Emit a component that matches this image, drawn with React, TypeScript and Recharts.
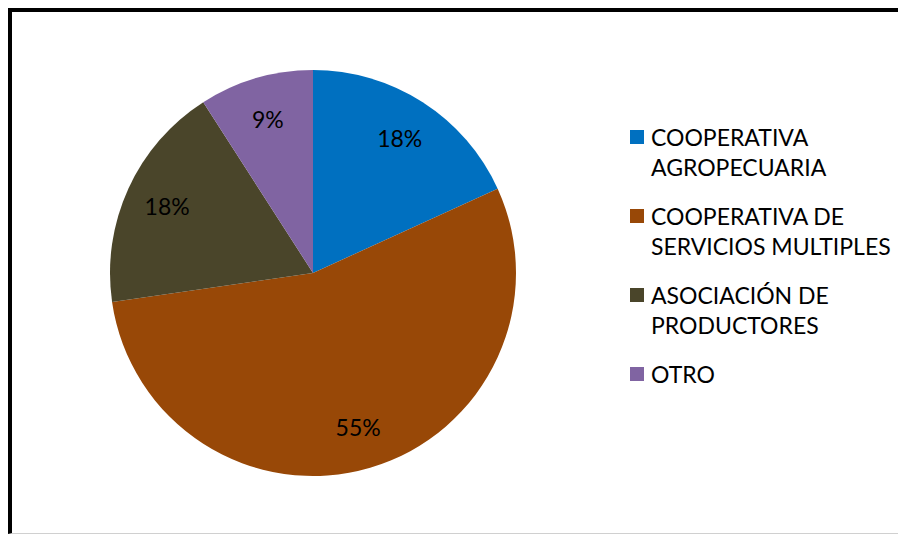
import React from 'react';
import { PieChart, Pie, Cell, Legend } from 'recharts';

const categories = [
  'COOPERATIVA AGROPECUARIA',
  'COOPERATIVA DE SERVICIOS MULTIPLES',
  'ASOCIACIÓN DE PRODUCTORES',
  'OTRO',
];
const counts = [2, 6, 2, 1];
const colors = ['#0070C0', '#984807', '#4A452A', '#8064A2'];

const data = categories.map((name, i) => ({ name, value: counts[i] }));
const total = counts.reduce((a, b) => a + b, 0);

const FONT = 'Lato, "Open Sans", sans-serif';
const RAD = Math.PI / 180;

const renderLabel = (props: any) => {
  const { cx, cy, midAngle, outerRadius, value } = props;
  const r = outerRadius * 0.79;
  const x = cx + r * Math.cos(-midAngle * RAD);
  const y = cy + r * Math.sin(-midAngle * RAD);
  return (
    <text x={x} y={y} fill="#000" textAnchor="middle" dominantBaseline="central" fontSize={23} fontFamily={FONT}>
      {Math.round((value / total) * 100)}%
    </text>
  );
};

const renderLegend = () => (
  <div style={{ fontFamily: FONT, fontSize: 23, color: '#000' }}>
    {data.map((d, i) => (
      <div key={d.name} style={{ display: 'flex', alignItems: 'flex-start', marginBottom: 19 }}>
        <div style={{ width: 14, height: 14, background: colors[i], marginTop: 8, marginRight: 7, flexShrink: 0 }} />
        <div style={{ width: 255, lineHeight: '30px' }}>{d.name}</div>
      </div>
    ))}
  </div>
);

const App: React.FC = () => {
  return (
    <div
      style={{
        width: 900,
        height: 521,
        borderTop: '4px solid #000',
        borderLeft: '4px solid #000',
        borderBottom: '1px solid #d0d0d0',
        background: '#fff',
        overflow: 'hidden',
      }}
    >
      <PieChart width={896} height={521}>
        <Pie
          data={data}
          dataKey="value"
          nameKey="name"
          cx={296}
          cy={256}
          outerRadius={203}
          startAngle={90}
          endAngle={-270}
          stroke="none"
          label={renderLabel}
          labelLine={false}
          isAnimationActive={false}
        >
          {data.map((d, i) => (
            <Cell key={d.name} fill={colors[i]} />
          ))}
        </Pie>
        <Legend
          content={renderLegend}
          layout="vertical"
          wrapperStyle={{ position: 'absolute', left: 618, top: 110, width: 280 }}
        />
      </PieChart>
    </div>
  );
};

export default App;
